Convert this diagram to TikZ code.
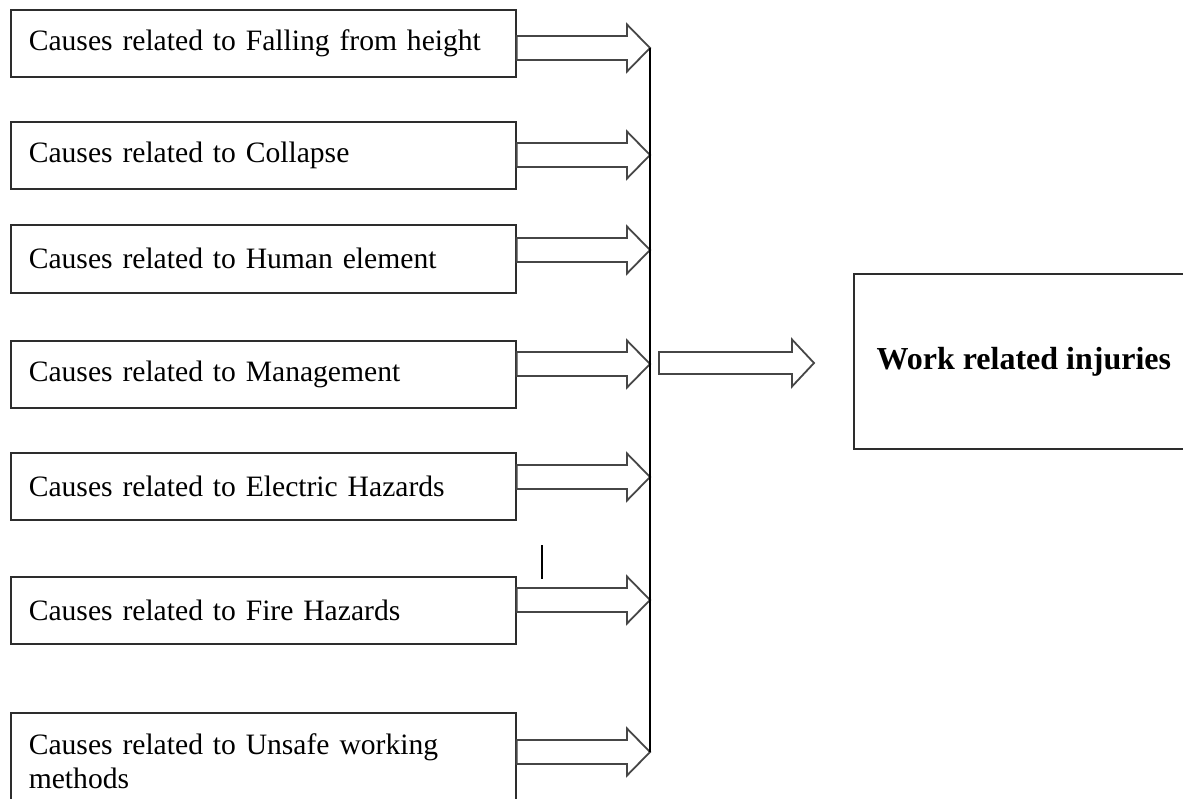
\documentclass[tikz,border=0pt]{standalone}
\usepackage{fontspec}
\setmainfont{Liberation Serif}
\usetikzlibrary{positioning,calc}
\definecolor{boxline}{RGB}{45,45,45}
\definecolor{arrline}{RGB}{70,70,70}

% block arrow from (#1) to tip (#2), #3 = half shaft, #4 = head length
\newcommand{\blockarrow}[4]{%
  \draw[barrow] ($(#1)+(0,-#3)$) -- ($(#2)+(-#4,-#3)$) -- ($(#2)+(-#4,-23.5)$)
    -- (#2) -- ($(#2)+(-#4,23.5)$) -- ($(#2)+(-#4,#3)$) -- ($(#1)+(0,#3)$) -- cycle;}

\begin{document}
\begin{tikzpicture}[
  x=1pt, y=-1pt,
  every node/.style={font=\fontsize{29.6}{34}\selectfont},
  cause/.style={rectangle, draw=boxline, line width=1.6pt, anchor=north west,
    minimum width=505pt, text width=469pt, inner xsep=18pt, align=left},
  result/.style={rectangle, draw=boxline, line width=1.6pt, anchor=north west,
    minimum width=340pt, minimum height=175pt,
    font=\fontsize{32}{38}\selectfont\bfseries},
  barrow/.style={draw=arrline, line width=1.8pt, line join=miter},
  spine/.style={draw=black, line width=1.5pt}
]
  \fill[white] (0,0) rectangle (1183,798);
  \useasboundingbox (0,0) rectangle (1183,798);

  \node[cause, minimum height=67pt] (c1) at (10,9)   {Causes related to Falling from height};
  \node[cause, minimum height=67pt] (c2) at (10,121) {Causes related to Collapse};
  \node[cause, minimum height=68pt] (c3) at (10,224) {Causes related to Human element};
  \node[cause, minimum height=67pt] (c4) at (10,340) {Causes related to Management};
  \node[cause, minimum height=67pt] (c5) at (10,452) {Causes related to Electric Hazards};
  \node[cause, minimum height=67pt] (c6) at (10,576) {Causes related to Fire Hazards};
  \node[cause, minimum height=96pt] (c7) at (10,712) {Causes related to Unsafe working\\methods};

  \node[result] (wri) at (853,273) {Work related injuries};

  % arrows into the spine
  \foreach \i/\y in {1/48,2/155,3/250,4/364,5/477,6/600,7/752} {
    \coordinate (t\i) at (650,\y);
    \coordinate (s\i) at (c\i.east |- t\i);
    \blockarrow{s\i}{t\i}{12}{23}
  }
  \draw[spine] (t1) -- (t7);

  % arrow to the result
  \coordinate (ms) at (659,363);
  \coordinate (mt) at (wri.west |- ms);
  \coordinate (mtip) at ($(mt)+(-39,0)$);
  \blockarrow{ms}{mtip}{11}{22}

  % stray tick
  \coordinate (tk) at (542,545);
  \draw[spine, line width=1.2pt] (tk) -- ++(0,34);
\end{tikzpicture}
\end{document}
